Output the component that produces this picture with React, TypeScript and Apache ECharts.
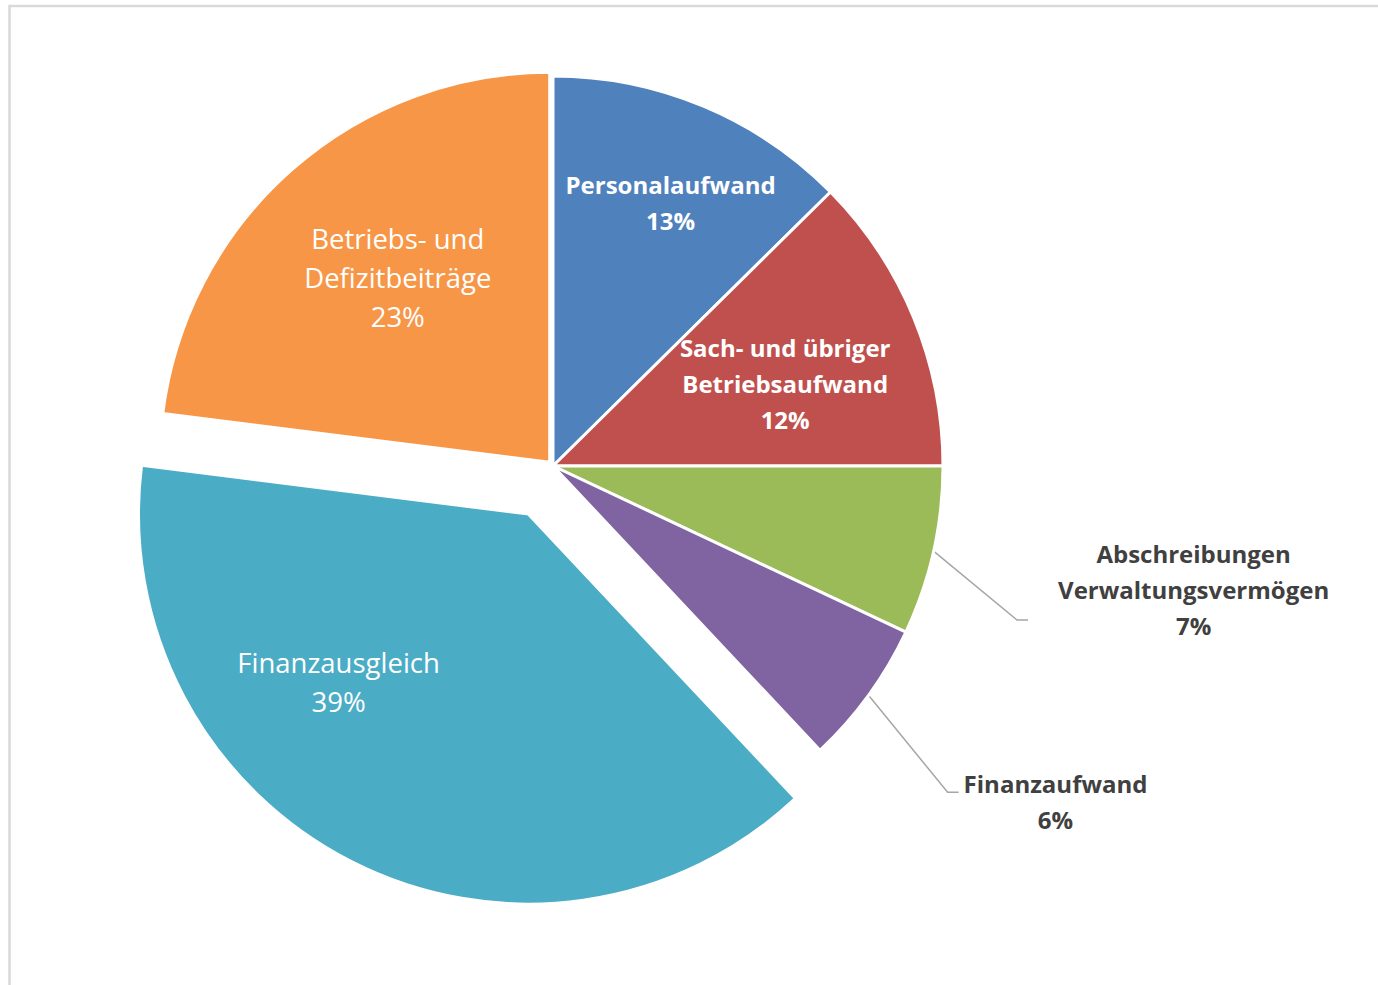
import React, { useEffect, useRef } from "react";
import * as echarts from "echarts";

// ---- Data ----
const categories: string[] = [
  "Personalaufwand",
  "Sach- und übriger\nBetriebsaufwand",
  "Abschreibungen\nVerwaltungsvermögen",
  "Finanzaufwand",
  "Finanzausgleich",
  "Betriebs- und\nDefizitbeiträge",
];
const values: number[] = [12.6, 12.4, 7, 6, 39, 23];
const colors: string[] = ["#4F81BD", "#C0504D", "#9BBB59", "#8064A2", "#4BACC6", "#F79646"];
// which slices are pulled out: strongly (group 0) or slightly (group 1)
const explodeGroup: number[] = [-1, -1, -1, -1, 0, 1];
const explodeOffsets: number[] = [54, 5];

// ---- Label styling / layout (not data) ----
type LabelKind = "insideBold" | "insideNormal" | "outside";
const labelKinds: LabelKind[] = ["insideBold", "insideBold", "outside", "outside", "insideNormal", "insideNormal"];
// inside labels: shift from ECharts' default inside position
const insideShift: Record<number, [number, number]> = {
  0: [41.2, -81.1],
  1: [49, -7.7],
  4: [-100, -8.5],
  5: [-21, -36],
};
// outside labels: label centre relative to leader start, leader end gap and vertical offset
const outsideLayout: Record<number, { x: number; y: number; gap: number; lineY: number }> = {
  2: { x: 260, y: 38, gap: 30, lineY: 31 },
  3: { x: 187, y: 106, gap: 5, lineY: -9 },
};

const FONT = "'Open Sans', sans-serif";

function buildData(group: number) {
  // group 0 series: every slice except those in group 1 drawn; group 1 series: only group-1 slices drawn
  return categories.map((name, i) => {
    const kind = labelKinds[i];
    const visible = group === 1 ? explodeGroup[i] === 1 : explodeGroup[i] !== 1;
    const base: any = {
      name,
      value: values[i],
      selected: group === 1 ? explodeGroup[i] === 1 : explodeGroup[i] === 0,
      itemStyle: visible
        ? { color: colors[i] }
        : { color: "transparent", borderWidth: 0 },
    };
    if (!visible) {
      base.label = { show: false };
      base.labelLine = { show: false };
      return base;
    }
    if (kind === "outside") {
      base.label = {
        position: "outside",
        color: "#404040",
        fontWeight: "bold",
        fontSize: 24,
        lineHeight: 36,
      };
      base.labelLine = {
        show: true,
        length: 20,
        length2: 10,
        smooth: false,
        lineStyle: { color: "#A6A6A6", width: 1.5 },
      };
    } else if (kind === "insideBold") {
      base.label = {
        position: "inside",
        color: "#FFFFFF",
        fontWeight: "bold",
        fontSize: 24,
        lineHeight: 36,
      };
    } else {
      base.label = {
        position: "inside",
        color: "#FFFFFF",
        fontWeight: "normal",
        fontSize: 27.5,
        lineHeight: 39,
      };
    }
    return base;
  });
}

const labelLayout = (p: any) => {
  const i = p.dataIndex;
  if (labelKinds[i] === "outside") {
    const o = outsideLayout[i];
    const pts = p.labelLinePoints;
    if (!o || !pts || !pts[0]) return {};
    const p0 = pts[0];
    const cx = p0[0] + o.x;
    const cy = p0[1] + o.y;
    const left = cx - p.labelRect.width / 2;
    const endX = left - o.gap;
    const endY = cy + o.lineY;
    return {
      x: cx,
      y: cy,
      align: "center",
      verticalAlign: "middle",
      labelLinePoints: [p0, [endX - 11, endY], [endX, endY]],
    };
  }
  const s = insideShift[i];
  return s ? { dx: s[0], dy: s[1] } : {};
};

export default function App() {
  const ref = useRef<HTMLDivElement>(null);

  useEffect(() => {
    if (!ref.current) return;
    const chart = echarts.init(ref.current, undefined, { renderer: "svg" });

    const common = {
      type: "pie",
      center: [553, 466],
      radius: 390,
      startAngle: 90,
      clockwise: true,
      selectedMode: "multiple",
      avoidLabelOverlap: false,
      emphasis: { disabled: true },
      itemStyle: { borderColor: "#FFFFFF", borderWidth: 3 },
      label: {
        show: true,
        position: "inside",
        fontFamily: FONT,
        align: "center",
        formatter: (p: any) => `${p.name}\n${Math.round(p.percent)}%`,
      },
      labelLine: { show: false },
      labelLayout,
    };

    chart.setOption({
      animation: false,
      backgroundColor: "#FFFFFF",
      graphic: [
        {
          type: "rect",
          z: -10,
          shape: { x: 9.5, y: 6, width: 1420, height: 1020 },
          style: { fill: "none", stroke: "#D9D9D9", lineWidth: 2.5 },
          silent: true,
        },
      ],
      series: [
        { ...common, name: "main", selectedOffset: explodeOffsets[0], data: buildData(0) },
        { ...common, name: "slight", selectedOffset: explodeOffsets[1], data: buildData(1) },
      ],
    });

    return () => chart.dispose();
  }, []);

  return (
    <div
      ref={ref}
      style={{ position: "absolute", left: 0, top: 0, width: 1378, height: 985 }}
    />
  );
}
